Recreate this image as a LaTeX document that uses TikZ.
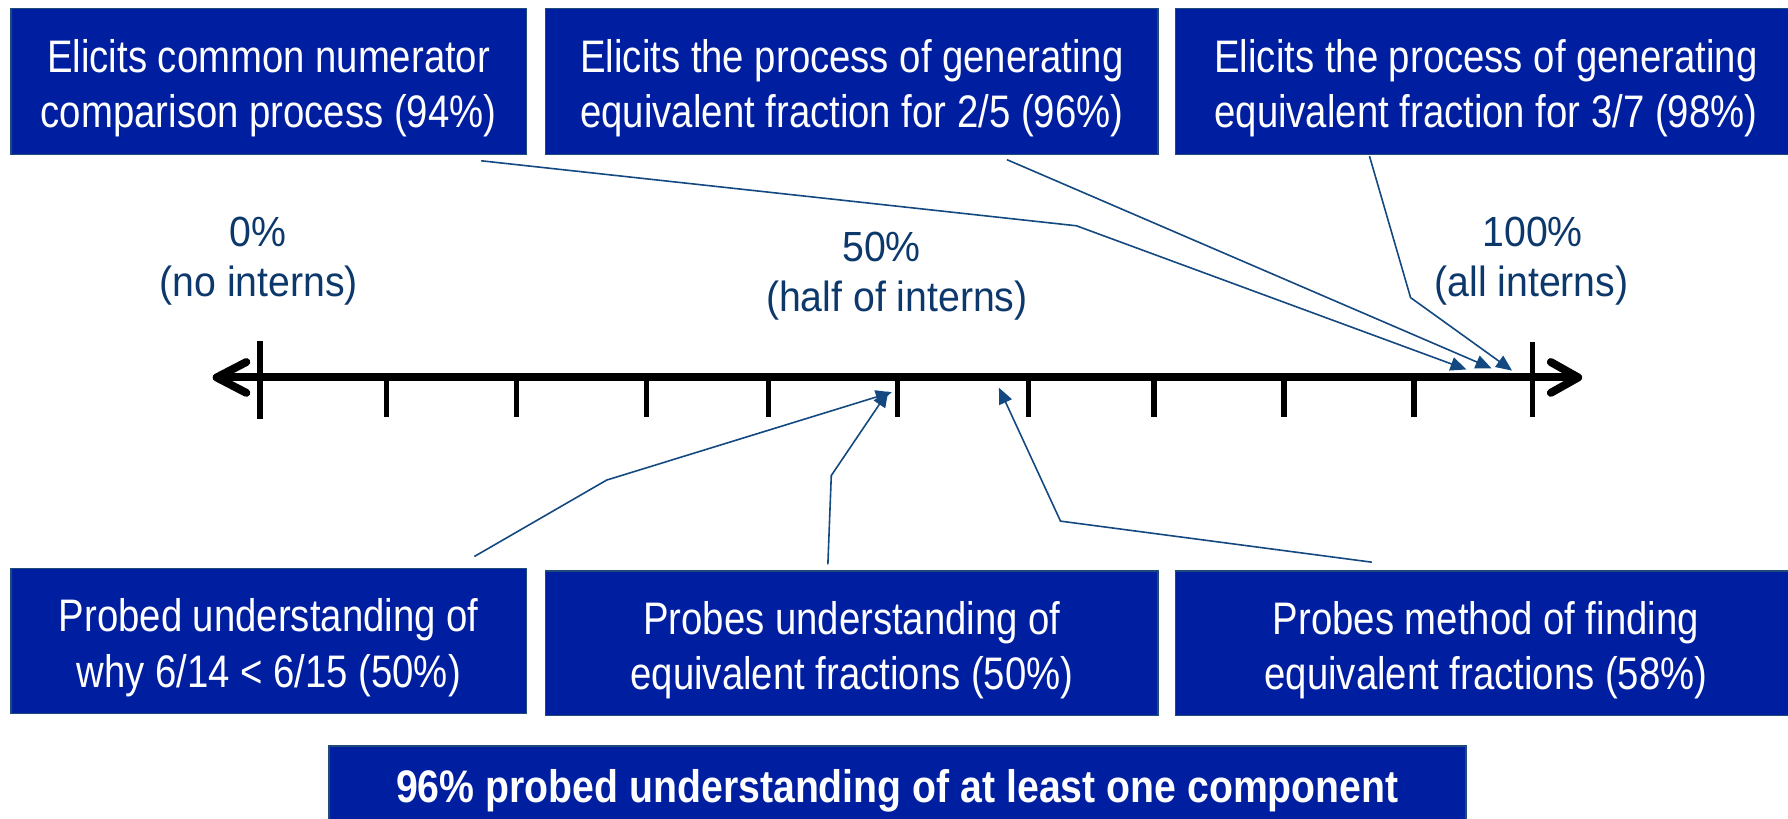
\documentclass[tikz,border=0pt]{standalone}
\usepackage{fontspec}
\setmainfont{Liberation Sans}
\newfontfamily\boxfont[FakeStretch=0.84]{Liberation Sans}
\newfontfamily\boldboxfont[FakeStretch=0.86]{Liberation Sans}
\newfontfamily\labfont[FakeStretch=0.93]{Liberation Sans}
\usetikzlibrary{arrows.meta}
\definecolor{boxblue}{RGB}{0,30,160}
\definecolor{boxedge}{RGB}{30,75,120}
\definecolor{labnavy}{RGB}{12,56,108}
\definecolor{connblue}{RGB}{20,72,128}
\begin{document}
\begin{tikzpicture}[x=1pt,y=-1pt,
  box/.style={draw=boxedge, line width=1.2pt, fill=boxblue, inner sep=0pt, anchor=north west},
  boxtext/.style={text=white, align=center, inner sep=0pt, font=\boxfont\fontsize{40}{48.5}\selectfont},
  bigtext/.style={text=white, inner sep=0pt, anchor=base, font=\boldboxfont\bfseries\fontsize{40}{48}\selectfont},
  lab/.style={text=labnavy, inner sep=0pt, anchor=base, font=\labfont\fontsize{37}{44}\selectfont},
  axis/.style={line width=7pt},
  chevron/.style={line width=7pt, line cap=round, line join=round},
  tick/.style={line width=5pt},
  conn/.style={draw=connblue, line width=1.4pt, -{Triangle[length=14pt,width=12pt]}}
]
\useasboundingbox (0,0) rectangle (1568,718);

% boxes
\node[box, minimum width=452pt, minimum height=128pt] (boxA) at (9,7) {};
\node[box, minimum width=537pt, minimum height=128pt] (boxB) at (478,7) {};
\node[box, minimum width=545pt, minimum height=128pt] (boxC) at (1030,7) {};
\node[box, minimum width=452pt, minimum height=127pt] (boxD) at (9,498) {};
\node[box, minimum width=537pt, minimum height=127pt] (boxE) at (478,500) {};
\node[box, minimum width=545pt, minimum height=127pt] (boxF) at (1030,500) {};
\node[box, minimum width=997pt, minimum height=80pt] (boxG) at (288,653.5) {};

\node[boxtext] (tA) at ([yshift=-6pt]boxA.center) {Elicits common numerator\\comparison process (94\%)};
\node[boxtext] (tB) at ([yshift=-6pt]boxB.center) {Elicits the process of generating\\equivalent fraction for 2/5 (96\%)};
\node[boxtext] (tC) at ([yshift=-6pt]boxC.center) {Elicits the process of generating\\equivalent fraction for 3/7 (98\%)};
\node[boxtext] (tD) at ([yshift=-6pt]boxD.center) {Probed understanding of\\why 6/14 < 6/15 (50\%)};
\node[boxtext] (tE) at ([yshift=-6pt]boxE.center) {Probes understanding of\\equivalent fractions (50\%)};
\node[boxtext] (tF) at ([yshift=-6pt]boxF.center) {Probes method of finding\\equivalent fractions (58\%)};
\node[bigtext] (tG) at (787,704) {96\% probed understanding of at least one component};

% labels
\node[lab] (l0a) at (226.5,216.5) {0\%};
\node[lab] (l0b) at (227,260) {(no interns)};
\node[lab] (l50a) at (773,229.5) {50\%};
\node[lab] (l50b) at (786.5,273) {(half of interns)};
\node[lab] (l100a) at (1344,216.5) {100\%};
\node[lab] (l100b) at (1343,260) {(all interns)};

% number line
\coordinate (L) at (190,331);
\coordinate (R) at (1384,331);
\draw[axis] (L) -- (R);
\draw[chevron] (216,317.5) -- (L) -- (216,344.5);
\draw[chevron] (1360,317.5) -- (R) -- (1360,344.5);
\foreach \x in {339,453,567,674,787,902,1012,1126,1240}
  \draw[tick] (\x,331) -- (\x,366);
\draw[tick] (228,299) -- (228,367);
\draw[tick] (1344,300) -- (1344,366);

% connectors
\coordinate (a0) at (422,141); \coordinate (a1) at (944,198); \coordinate (a2) at (1286,324);
\coordinate (b0) at (883,140); \coordinate (b1) at (1308,323);
\coordinate (c0) at (1201,137); \coordinate (c1) at (1237,261); \coordinate (c2) at (1326,325);
\coordinate (d0) at (416,488); \coordinate (d1) at (532,421); \coordinate (d2) at (782,344);
\coordinate (e0) at (726,495); \coordinate (e1) at (729,417); \coordinate (e2) at (779,343);
\coordinate (f0) at (1203,493); \coordinate (f1) at (930,457); \coordinate (f2) at (876,340);
\draw[conn] (a0) -- (a1) -- (a2);
\draw[conn] (b0) -- (b1);
\draw[conn] (c0) -- (c1) -- (c2);
\draw[conn] (d0) -- (d1) -- (d2);
\draw[conn] (e0) -- (e1) -- (e2);
\draw[conn] (f0) -- (f1) -- (f2);
\end{tikzpicture}
\end{document}
